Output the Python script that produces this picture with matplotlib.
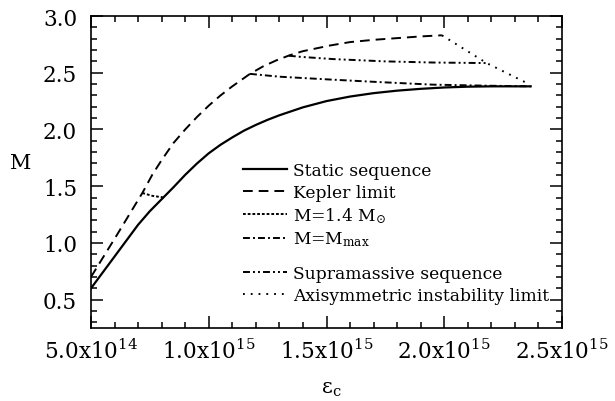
import matplotlib
matplotlib.use("Agg")
import matplotlib.pyplot as plt
from matplotlib.ticker import MultipleLocator

plt.rcParams['font.family'] = ['DejaVu Serif']
plt.rcParams['mathtext.fontset'] = 'dejavuserif'
plt.rcParams['lines.scale_dashes'] = False

# Data (x in units of 1e14)
static_x = [5.0, 5.5, 6.0, 6.5, 7.0, 7.5, 8.0, 8.5, 9.0, 9.5, 10.0, 10.5, 11.0, 11.5, 12.0, 12.5,
            13.0, 14.0, 15.0, 16.0, 17.0, 18.0, 19.0, 20.0, 21.0, 22.0, 23.67]
static_y = [0.60, 0.74, 0.88, 1.02, 1.16, 1.28, 1.385, 1.49, 1.60, 1.70, 1.79, 1.865, 1.93, 1.99, 2.04, 2.085,
            2.125, 2.195, 2.25, 2.29, 2.32, 2.342, 2.358, 2.37, 2.377, 2.38, 2.38]

kepler_x = [5.0, 6.1, 7.18, 7.6, 8.0, 8.5, 9.0, 9.5, 10.0, 10.5, 11.0, 11.75, 12.3, 12.88, 13.45,
            14.0, 15.15, 16.0, 17.0, 18.0, 19.0, 19.9]
kepler_y = [0.70, 1.07, 1.44, 1.60, 1.73, 1.88, 2.00, 2.11, 2.21, 2.30, 2.38, 2.49, 2.555, 2.61, 2.655,
            2.69, 2.74, 2.77, 2.79, 2.805, 2.82, 2.83]

m14_x = [7.18, 7.6, 8.1]
m14_y = [1.44, 1.415, 1.40]

mmax_x = [11.75, 13.0, 15.15, 17.0, 19.5, 22.0, 23.67]
mmax_y = [2.49, 2.465, 2.44, 2.42, 2.395, 2.385, 2.38]

supra_x = [13.4, 13.9, 15.3, 17.5, 19.5, 21.8]
supra_y = [2.65, 2.64, 2.62, 2.60, 2.59, 2.585]

axis_x = [19.9, 21.8, 23.5]
axis_y = [2.83, 2.585, 2.41]

scale = 1e14
xticks = [5e14, 1.0e15, 1.5e15, 2.0e15, 2.5e15]
xticklabels = [r"5.0x10$^{14}$", r"1.0x10$^{15}$", r"1.5x10$^{15}$", r"2.0x10$^{15}$", r"2.5x10$^{15}$"]
yticks = [0.5, 1.0, 1.5, 2.0, 2.5, 3.0]
yticklabels = ["0.5", "1.0", "1.5", "2.0", "2.5", "3.0"]

labels = ["Static sequence", "Kepler limit", r"M=1.4 M$_{\odot}$", r"M=M$_{\mathrm{max}}$",
          "Supramassive sequence", "Axisymmetric instability limit"]

fig = plt.figure(figsize=(6.15, 4.02), dpi=100)
ax = fig.add_axes([91/615, 1-329/402, (562-91)/615, (329-17)/402])

lw = 1.4
h0, = ax.plot([v*scale for v in static_x], static_y, color='black', lw=1.6, label=labels[0])
h1, = ax.plot([v*scale for v in kepler_x], kepler_y, color='black', lw=lw, dashes=(7, 4.3), label=labels[1])
h2, = ax.plot([v*scale for v in m14_x], m14_y, color='black', lw=lw, dashes=(2, 1.4), label=labels[2])
h3, = ax.plot([v*scale for v in mmax_x], mmax_y, color='black', lw=lw, dashes=(5, 2.2, 1.4, 2.2), label=labels[3])
h4, = ax.plot([v*scale for v in supra_x], supra_y, color='black', lw=lw,
              dashes=(5, 2.2, 1.4, 2.2, 1.4, 2.2), label=labels[4])
h5, = ax.plot([v*scale for v in axis_x], axis_y, color='black', lw=lw, dashes=(1.3, 4.3), label=labels[5])

ax.set_xlim(5e14, 2.5e15)
ax.set_ylim(0.25, 3.0)
ax.set_xticks(xticks)
ax.set_xticklabels(xticklabels)
ax.set_yticks(yticks)
ax.set_yticklabels(yticklabels)
ax.xaxis.set_minor_locator(MultipleLocator(1e14))
ax.yaxis.set_minor_locator(MultipleLocator(0.1))
ax.tick_params(which='both', direction='in', top=True, right=True, width=1.1, labelsize=15.5)
ax.tick_params(which='major', length=8.5)
ax.tick_params(which='minor', length=4.3)
ax.tick_params(axis='y', pad=10)
ax.tick_params(axis='x', pad=8)
for sp in ax.spines.values():
    sp.set_linewidth(1.2)

ax.set_ylabel("M", rotation=0, fontsize=15)
ax.yaxis.set_label_coords(-0.149, 0.50)
ax.set_xlabel(r"ε$_{\mathrm{c}}$", fontsize=15)
ax.xaxis.set_label_coords(0.51, -0.165)

common = dict(frameon=False, fontsize=12.3, handlelength=2.55, handletextpad=0.4,
              labelspacing=0.27, borderpad=0, borderaxespad=0, loc='upper left',
              bbox_transform=fig.transFigure)
leg1 = ax.legend([h0, h1, h2, h3], labels[:4], bbox_to_anchor=(243/615, 1-163/402), **common)
ax.add_artist(leg1)
leg2 = ax.legend([h4, h5], labels[4:], bbox_to_anchor=(243/615, 1-266/402), **common)

fig.savefig("out.png", dpi=100)
